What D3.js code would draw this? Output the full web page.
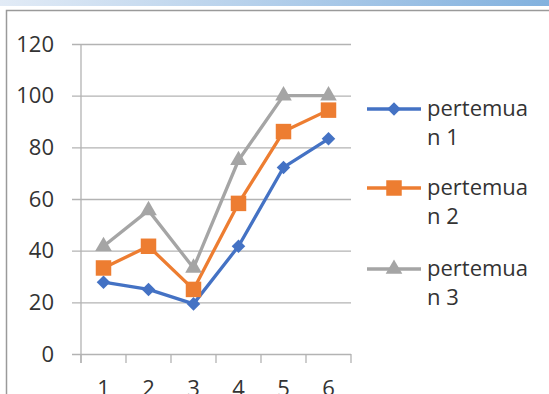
<!DOCTYPE html>
<html>
<head>
<meta charset="utf-8">
<script src="https://cdn.jsdelivr.net/npm/d3@7"></script>
<style>
  html, body { margin: 0; padding: 0; background: #fff; overflow: hidden; }
  svg { display: block; font-family: "Open Sans", "Liberation Sans", sans-serif; }
</style>
</head>
<body>
<div id="chart"></div>
<script>
// data
const categories = ["1", "2", "3", "4", "5", "6"];
const pertemuan1 = [27.8, 25, 19.4, 41.7, 72.2, 83.3];
const pertemuan2 = [33.3, 41.7, 25, 58.3, 86.1, 94.4];
const pertemuan3 = [41.7, 55.6, 33.3, 75, 100, 100];
const seriesNames = ["pertemuan 1", "pertemuan 2", "pertemuan 3"];
const yTicks = [0, 20, 40, 60, 80, 100, 120];

const width = 549, height = 394;
const colors = ["#4472c4", "#ed7d31", "#a5a5a5"];
const shapes = ["diamond", "square", "triangle"];

const series = [pertemuan1, pertemuan2, pertemuan3].map((vals, i) => ({
  name: seriesNames[i],
  color: colors[i],
  shape: shapes[i],
  values: vals.map((v, j) => ({ cat: categories[j], v }))
}));

const svg = d3.select("#chart").append("svg")
  .attr("width", width)
  .attr("height", height);

// top gradient strip + frame of the slide
const grad = svg.append("defs").append("linearGradient").attr("id", "strip");
grad.append("stop").attr("offset", "0%").attr("stop-color", "#e2ebf6");
grad.append("stop").attr("offset", "100%").attr("stop-color", "#82b1de");
svg.append("rect").attr("x", 0).attr("y", 0).attr("width", width).attr("height", 6)
  .attr("fill", "url(#strip)");
svg.append("rect").attr("x", 6.5).attr("y", 10.5).attr("width", width).attr("height", height)
  .attr("fill", "none").attr("stroke", "#9a9a9a").attr("stroke-width", 1.5);

const x = d3.scaleBand().domain(categories).range([81, 351]).padding(0);
const y = d3.scaleLinear().domain([0, 120]).range([354, 44]);
const cx = d => x(d) + x.bandwidth() / 2;

const gridColor = "#b3b3b3";
const textColor = "#333333";
const fontSize = 22;

// gridlines + y labels
svg.append("g")
  .attr("transform", "translate(81,0)")
  .call(d3.axisLeft(y).tickValues(yTicks).tickSize(9).tickPadding(18))
  .call(g => g.select(".domain").remove())
  .call(g => g.selectAll(".tick line").attr("stroke", gridColor).attr("stroke-width", 1.3)
    .attr("x2", -9).attr("x1", 351 - 81))
  .call(g => g.selectAll(".tick text").attr("fill", textColor)
    .attr("font-size", fontSize).attr("font-family", "Open Sans, sans-serif"));

// y axis line
svg.append("line").attr("x1", 81).attr("x2", 81).attr("y1", 44).attr("y2", 363)
  .attr("stroke", gridColor).attr("stroke-width", 1.3);

// x axis band boundary ticks
const bounds = categories.map(c => x(c)).concat([x.range()[1]]);
svg.append("g").selectAll("line").data(bounds).join("line")
  .attr("x1", d => d).attr("x2", d => d).attr("y1", 354).attr("y2", 363)
  .attr("stroke", gridColor).attr("stroke-width", 1.3);

// x labels (cut off by the bottom edge, as in the reference)
svg.append("g").selectAll("text").data(categories).join("text")
  .attr("x", d => cx(d)).attr("y", 396)
  .attr("text-anchor", "middle").attr("font-size", fontSize).attr("fill", textColor)
  .text(d => d);

function symbolPath(shape) {
  if (shape === "diamond") return d3.symbol(d3.symbolSquare, 92)();
  if (shape === "square") return d3.symbol(d3.symbolSquare, 240)();
  return d3.symbol(d3.symbolTriangle, 120)();
}
function symbolRotate(shape) { return shape === "diamond" ? " rotate(45)" : ""; }

const line = d3.line().x(d => cx(d.cat)).y(d => y(d.v));

const sg = svg.append("g").selectAll("g").data(series).join("g");
sg.append("path")
  .attr("d", d => line(d.values))
  .attr("fill", "none").attr("stroke", d => d.color)
  .attr("stroke-width", 3.3).attr("stroke-linejoin", "round");
sg.each(function (s) {
  d3.select(this).selectAll(".m").data(s.values).join("path")
    .attr("class", "m")
    .attr("d", symbolPath(s.shape))
    .attr("transform", d => `translate(${cx(d.cat)},${y(d.v)})${symbolRotate(s.shape)}`)
    .attr("fill", s.color);
});

// legend
const legY = [109, 188, 269];
const leg = svg.append("g").selectAll("g").data(series).join("g")
  .attr("transform", (d, i) => `translate(0,${legY[i]})`);
leg.append("line").attr("x1", 367).attr("x2", 421).attr("y1", 0).attr("y2", 0)
  .attr("stroke", d => d.color).attr("stroke-width", 3.3);
leg.append("path")
  .attr("d", d => symbolPath(d.shape))
  .attr("transform", d => `translate(394,0)${symbolRotate(d.shape)}`)
  .attr("fill", d => d.color);
leg.append("text")
  .attr("x", 427).attr("y", 7)
  .attr("font-size", fontSize).attr("fill", textColor)
  .text(d => d.name.slice(0, 8));
leg.append("text")
  .attr("x", 427).attr("y", 36)
  .attr("font-size", fontSize).attr("fill", textColor)
  .text(d => d.name.slice(8, 9) + " " + d.name.slice(-1));
</script>
</body>
</html>
